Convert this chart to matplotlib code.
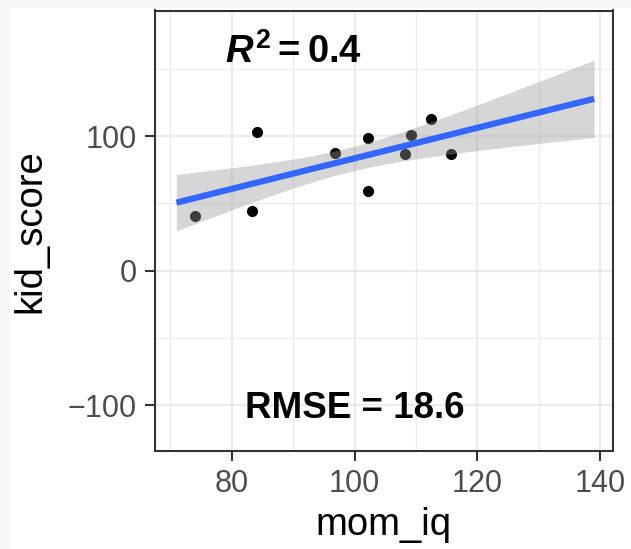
import numpy as np
import matplotlib
matplotlib.use("Agg")
import matplotlib.pyplot as plt
from matplotlib.ticker import FixedLocator

# ---- data ----
mom_iq = [74.1, 84.2, 83.3, 96.8, 102.2, 102.2, 108.2, 109.2, 112.4, 115.7]
kid_score = [40.7, 103.5, 44.7, 87.8, 99.0, 59.5, 86.6, 101.0, 112.9, 86.9]
smooth_range = [71, 139]
x_ticks = [80, 100, 120, 140]
y_ticks = [-100, 0, 100]
r2_label = "0.4"
rmse_label = "18.6"
band_crit = 1.37  # critical value giving the band width seen in the picture

plt.rcParams['font.family'] = ['Liberation Sans', 'DejaVu Sans']
plt.rcParams['mathtext.fontset'] = 'custom'
plt.rcParams['mathtext.rm'] = 'Liberation Sans:bold'
plt.rcParams['mathtext.bf'] = 'Liberation Sans:bold'
plt.rcParams['mathtext.it'] = 'Liberation Sans:italic:bold'

W, H = 631, 549
fig = plt.figure(figsize=(W / 100, H / 100), dpi=100, facecolor='#f7f7f7')
bg = fig.add_axes([10 / W, 0, 1 - 10 / W, 1 - 8 / H], zorder=-5)
bg.set_axis_off()
bg.add_patch(plt.Rectangle((0, 0), 1, 1, transform=bg.transAxes, facecolor='white',
                           edgecolor='none'))

ax = fig.add_axes([155 / W, 1 - 451 / H, (613 - 155) / W, (451 - 10.5) / H], zorder=1)
ax.set_facecolor('white')
ax.set_xlim(67.52, 142.07)
ax.set_ylim(-134.2, 193.6)

# grid
ax.xaxis.set_major_locator(FixedLocator(x_ticks))
ax.yaxis.set_major_locator(FixedLocator(y_ticks))
ax.xaxis.set_minor_locator(FixedLocator([70, 90, 110, 130]))
ax.yaxis.set_minor_locator(FixedLocator([-50, 50, 150]))
ax.grid(which='major', color='#EBEBEB', linewidth=1.6, zorder=0)
ax.grid(which='minor', color='#EBEBEB', linewidth=0.9, zorder=0)
ax.set_axisbelow(True)
ax.tick_params(which='minor', length=0)
ax.tick_params(which='major', direction='out', length=7, width=1.5, color='#333333',
               labelsize=22, labelcolor='#4D4D4D', pad=6)
for s in ax.spines.values():
    s.set_color('#333333')
    s.set_linewidth(1.5)

# points
x = np.array(mom_iq)
y = np.array(kid_score)
ax.plot(x, y, 'o', color='black', markersize=8, markeredgewidth=0, zorder=2)

# linear fit with band
n = len(x)
b1, b0 = np.polyfit(x, y, 1)
resid = y - (b0 + b1 * x)
s = np.sqrt(np.sum(resid ** 2) / (n - 2))
xs = np.linspace(smooth_range[0], smooth_range[1], 200)
yh = b0 + b1 * xs
se = s * np.sqrt(1 / n + (xs - x.mean()) ** 2 / np.sum((x - x.mean()) ** 2))
ax.fill_between(xs, yh - band_crit * se, yh + band_crit * se, color='#999999',
                alpha=0.4, linewidth=0, zorder=3)
ax.plot(xs, yh, color='#3366FF', linewidth=4.5, solid_capstyle='butt', zorder=4)

# annotations
ax.text(90, 154.8, r'$R^{\mathrm{2}}\mathrm{=' + r2_label + '}$',
        fontsize=27.5, ha='center', va='baseline', color='black', zorder=5)
ax.text(100, -109.9, 'RMSE = ' + rmse_label, fontsize=26.5, fontweight='bold',
        ha='center', va='baseline', color='black', zorder=5)

ax.set_xlabel('mom_iq', fontsize=27.5, color='black', labelpad=6)
ax.set_ylabel('kid_score', fontsize=27.5, color='black', labelpad=14)

fig.savefig('out.png', dpi=100, facecolor=fig.get_facecolor())
